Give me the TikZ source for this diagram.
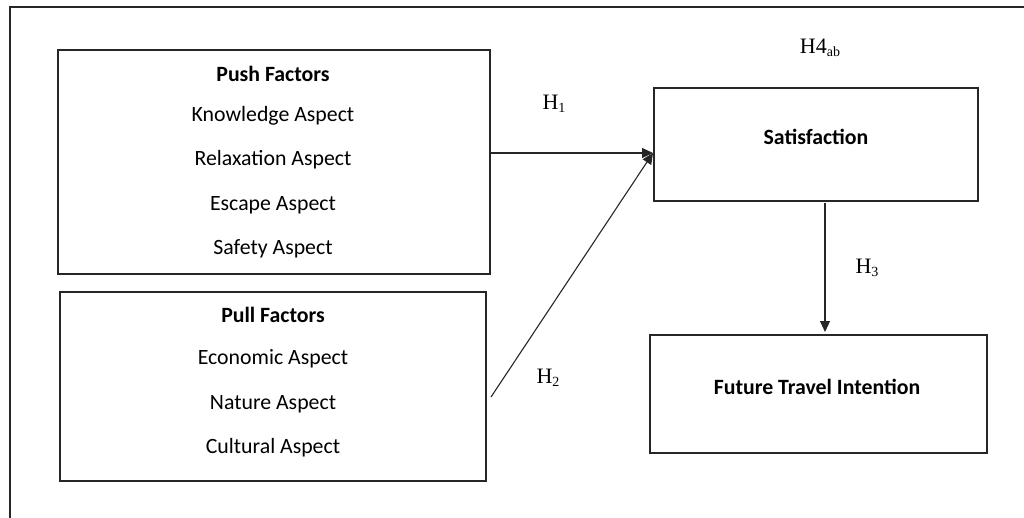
\documentclass[tikz,border=0pt]{standalone}
\usepackage{fontspec}
\setmainfont{Carlito}
\newfontfamily\tnr{Liberation Serif}
\usetikzlibrary{arrows.meta}
\begin{document}
\begin{tikzpicture}[x=1pt,y=-1pt,
  box/.style={draw=black!85,line width=2pt,minimum width=#1,inner sep=0pt},
  txt/.style={font=\fontsize{21.8}{25}\selectfont,inner sep=0pt,anchor=center},
  hd/.style={font=\fontsize{21.8}{25}\bfseries\selectfont,inner sep=0pt,anchor=center},
  hl/.style={font=\tnr\fontsize{22}{26}\selectfont,inner sep=0pt,anchor=center},
  arr/.style={draw=black!85,line width=1.1pt,-{Triangle[length=11pt,width=10pt]}}]
\useasboundingbox (0,0) rectangle (1024,517);
\begin{scope}
\clip (0,0) rectangle (1024,517);
\draw[draw=black!85,line width=2pt] (10,6.5) rectangle (1040,540);
\end{scope}
% boxes
\node[box=432pt,minimum height=224pt] (push) at (274,162) {};
\node[box=426pt,minimum height=189pt] (pull) at (273,386.5) {};
\node[box=324pt,minimum height=113pt] (sat) at (816,144.5) {};
\node[box=337pt,minimum height=118pt] (fut) at (818.5,394) {};
% texts
\node[hd] (pushh) at (273,74) {Push Factors};
\node[txt] (p1) at (273,116) {Knowledge Aspect};
\node[txt] (p2) at (273,160) {Relaxation Aspect};
\node[txt] (p3) at (273,205) {Escape Aspect};
\node[txt] (p4) at (273,249) {Safety Aspect};
\node[hd] (pullh) at (273,315) {Pull Factors};
\node[txt] (q1) at (273,359) {Economic Aspect};
\node[txt] (q2) at (273,404) {Nature Aspect};
\node[txt] (q3) at (273,448) {Cultural Aspect};
\node[hd] (sath) at (816,137) {Satisfaction};
\node[hd] (futh) at (817,387) {Future Travel Intention};
% connectors
\coordinate (tip) at (653,153);
\coordinate (h2s) at (491,397);
\draw[arr] (push.east |- tip) -- (tip);
\draw[arr] (h2s) -- (tip);
\draw[arr] (825,203) -- (825,332);
% labels
\node[hl] (l1) at (554,104) {H\raisebox{-0.25ex}{\fontsize{14}{16}\selectfont 1}};
\node[hl] (l2) at (548,378) {H\raisebox{-0.25ex}{\fontsize{14}{16}\selectfont 2}};
\node[hl] (l3) at (867,268) {H\raisebox{-0.25ex}{\fontsize{14}{16}\selectfont 3}};
\node[hl] (l4) at (820,48) {H4\raisebox{-0.3ex}{\fontsize{14}{16}\selectfont ab}};
\end{tikzpicture}
\end{document}
